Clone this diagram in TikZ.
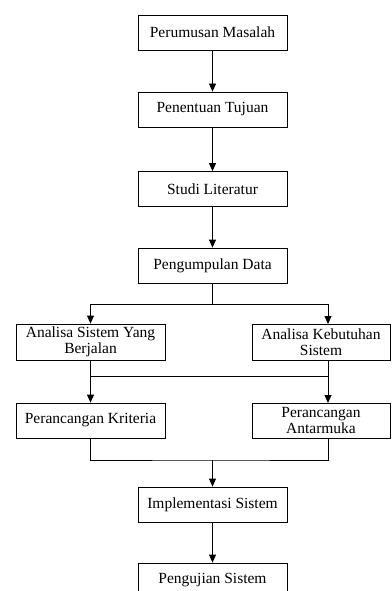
\documentclass[tikz,border=0pt]{standalone}
\usepackage{fontspec}
\setmainfont{Liberation Serif}
\usetikzlibrary{arrows.meta}

\begin{document}
\begin{tikzpicture}[x=1pt, y=-1pt, line width=0.8pt, >={Triangle[length=8pt, width=7pt]}]
        \tikzstyle{every node}=[font=\fontsize{15.5}{16.5}\selectfont, align=center, inner sep=1pt]
        \tikzstyle{langkah}=[draw, minimum width=149pt, minimum height=35pt]
        \tikzstyle{langkahkanan}=[draw, minimum width=138pt, minimum height=35pt]
        \clip (0,0) rectangle (391,591);
        % kolom utama
        \node [langkah] (perumusan) at (212.5,32.5) {Perumusan Masalah};
        \node [langkah] (penentuan) at (212.5,109.5) {Penentuan Tujuan};
        \node [langkah] (studi) at (212.5,189) {Studi Literatur};
        \node [langkah] (pengumpulan) at (212.5,265.5) {Pengumpulan Data};
        % cabang analisa dan perancangan
        \node [langkah, minimum height=36pt] (analisasistem) at (90.5,342) {Analisa Sistem Yang\\Berjalan};
        \node [langkahkanan, minimum height=36pt] (analisakebutuhan) at (321,342) {Analisa Kebutuhan\\Sistem};
        \node [langkah] (kriteria) at (90.5,420.5) {Perancangan Kriteria};
        \node [langkahkanan] (antarmuka) at (321,420.5) {Perancangan\\Antarmuka};
        \node [langkah] (implementasi) at (212.5,504.5) {Implementasi Sistem};
        \node [langkah] (pengujian) at (212.5,580.5) {Pengujian Sistem};
        % titik bantu
        \coordinate (bagi) at (212.5,304);
        \coordinate (kebutuhanatas) at (328,324);
        \coordinate (kebutuhanbawah) at (328,360);
        \coordinate (gabung) at (90.5,376);
        \coordinate (gabungkanan) at (328,376);
        \coordinate (antarmukaatas) at (328,403);
        \coordinate (antarmukabawah) at (328,438);
        \coordinate (satukan) at (212.5,460);
        % panah
        \draw [->] (perumusan) -- (penentuan);
        \draw [->] (penentuan) -- (studi);
        \draw [->] (studi) -- (pengumpulan);
        \draw (pengumpulan) -- (bagi);
        \draw [->] (bagi) -| (analisasistem.north);
        \draw [->] (bagi) -| (kebutuhanatas);
        \draw (analisasistem.south) -- (gabung) -- (gabungkanan);
        \draw [->] (gabung) -- (kriteria.north);
        \draw [->] (kebutuhanbawah) -- (antarmukaatas);
        \draw (kriteria.south) |- (satukan) -| (antarmukabawah);
        \draw [->] (satukan) -- (implementasi);
        \draw [->] (implementasi) -- (pengujian);
\end{tikzpicture}
\end{document}
